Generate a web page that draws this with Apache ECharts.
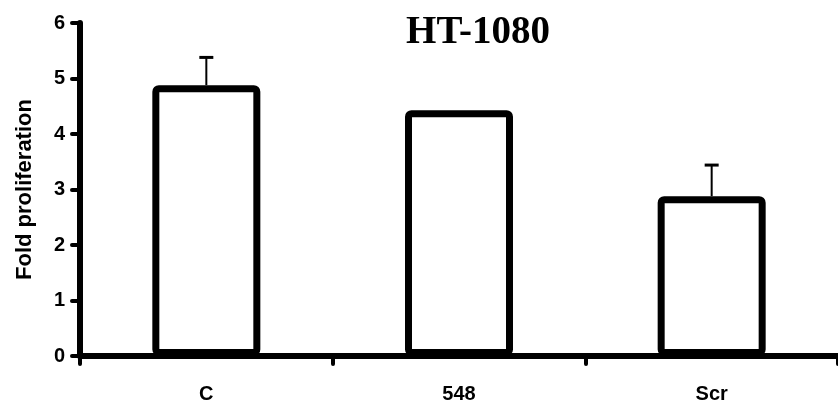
<!DOCTYPE html>
<html><head><meta charset="utf-8">
<script src="https://cdn.jsdelivr.net/npm/echarts@6/dist/echarts.min.js"></script>
<style>html,body{margin:0;padding:0;background:#fff}#c{width:838px;height:409px}</style>
</head><body><div id="c"></div>
<script>
const categories = ['C', '548', 'Scr'];
const meanValues = [4.88, 4.43, 2.88];
const errorValues = [0.5, 0, 0.56];
const yTicks = [0, 1, 2, 3, 4, 5, 6];

const chart = echarts.init(document.getElementById('c'), null, {renderer: 'canvas'});
chart.setOption({
  animation: false,
  backgroundColor: '#fff',
  title: {
    text: 'HT-1080', left: 473, top: 8, textAlign: 'center',
    textStyle: {fontFamily: 'Liberation Serif', fontWeight: 'bold', fontSize: 39, color: '#000'}
  },
  grid: {left: 80, right: -3, top: 23, bottom: 53, containLabel: false},
  xAxis: {
    type: 'category', data: categories,
    axisLine: {lineStyle: {color: '#000', width: 6}},
    axisTick: {show: true, length: 8, lineStyle: {color: '#000', width: 4, cap: 'round'}},
    axisLabel: {margin: 28, fontFamily: 'Liberation Sans', fontWeight: 'bold', fontSize: 20, color: '#000'}
  },
  yAxis: {
    type: 'value', min: yTicks[0], max: yTicks[yTicks.length - 1], interval: 1,
    name: 'Fold proliferation', nameLocation: 'middle', nameGap: 44, nameRotate: 90,
    nameTextStyle: {fontFamily: 'Liberation Sans', fontWeight: 'bold', fontSize: 22, color: '#000'},
    axisLine: {show: true, lineStyle: {color: '#000', width: 6, cap: 'round'}},
    axisTick: {show: true, length: 8, lineStyle: {color: '#000', width: 4, cap: 'round'}},
    axisLabel: {margin: 15, fontFamily: 'Liberation Sans', fontWeight: 'bold', fontSize: 20, color: '#000'},
    splitLine: {show: false}
  },
  series: [
    {
      type: 'bar', data: meanValues, barWidth: 108, z: 2,
      itemStyle: {color: '#fff', borderColor: '#000', borderWidth: 7, borderRadius: 3, borderJoin: 'round'}
    },
    {
      type: 'custom', z: 3,
      data: meanValues.map((v, i) => [i, v, errorValues[i]]),
      renderItem: function (params, api) {
        const i = api.value(0), v = api.value(1), e = api.value(2);
        if (!e) return null;
        const p0 = api.coord([i, v]);
        const p1 = api.coord([i, v + e]);
        return {
          type: 'group',
          children: [
            {type: 'line', shape: {x1: p0[0], y1: p0[1], x2: p1[0], y2: p1[1]}, style: {stroke: '#000', lineWidth: 2}},
            {type: 'line', shape: {x1: p1[0] - 7, y1: p1[1], x2: p1[0] + 7, y2: p1[1]}, style: {stroke: '#000', lineWidth: 3}}
          ]
        };
      }
    }
  ]
});
</script></body></html>
